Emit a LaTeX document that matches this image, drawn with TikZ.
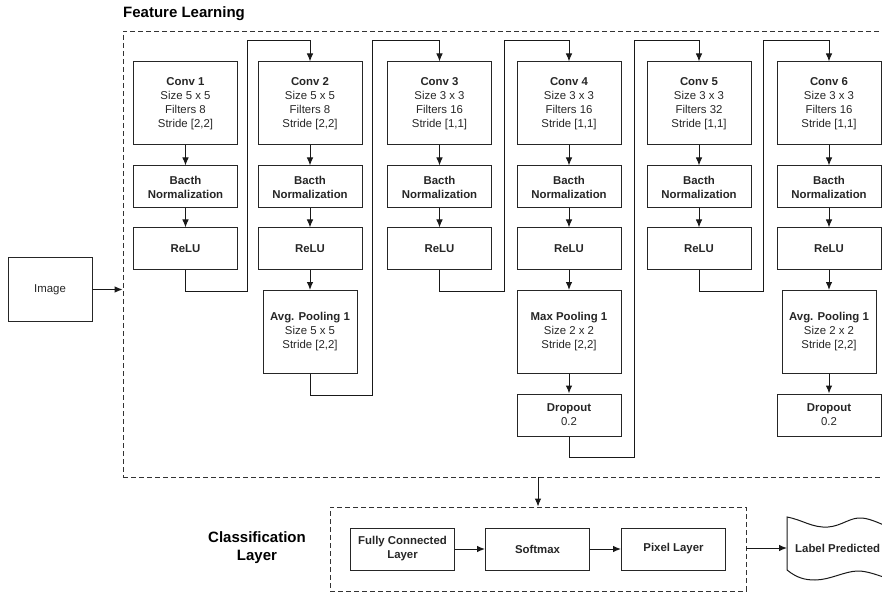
\documentclass[tikz,border=0pt]{standalone}
\usepackage{fontspec}
\setmainfont{Liberation Sans}
\usetikzlibrary{arrows.meta,calc}
\newcommand\boxfont{\fontsize{11.4}{14}\selectfont}
\newcommand\bigfont{\fontsize{15}{18}\selectfont\bfseries}
\tikzset{
  blk/.style={draw=black!85, line width=1pt, minimum width=104pt, inner sep=0pt,
              align=center, font=\boxfont, text=black!85},
  tall/.style={blk, minimum height=83pt},
  short/.style={blk, minimum height=42pt},
  pool/.style={blk, minimum height=83pt, minimum width=94pt},
  conn/.style={draw=black!90, line width=1pt},
  arr/.style={conn, -{Latex[length=8pt,width=6.5pt]}},
  dbox/.style={draw=black!80, line width=0.8pt, dash pattern=on 5pt off 3pt, inner sep=0pt},
}
\begin{document}
\begin{tikzpicture}[x=1pt,y=-1pt]
\useasboundingbox (0,0) rectangle (882,593);
\clip (0,0) rectangle (882,593);
% titles
\node[anchor=west, font=\bigfont, inner sep=0pt] (flt) at (123,14) {Feature Learning};
\node[align=center, font=\bigfont, inner sep=0pt] (clt) at (257,548) {Classification\\Layer};
% frames
\node[dbox, minimum width=767pt, minimum height=446pt] (fl) at (506.5,254) {};
\node[dbox, minimum width=416pt, minimum height=84pt] (cls) at (538,549) {};
% image
\node[blk, minimum width=84pt, minimum height=63pt] (img) at (50,289.5) {Image};
% column 1
\node[tall]  (c1) at (185.5,103.5) {\textbf{Conv 1}\\Size 5 x 5\\Filters 8\\Stride [2,2]};
\node[short] (b1) at (185.5,187) {\textbf{Bacth}\\\textbf{Normalization}};
\node[short] (r1) at (185.5,249) {\textbf{ReLU}};
% column 2
\node[tall]  (c2) at (310,103.5) {\textbf{Conv 2}\\Size 5 x 5\\Filters 8\\Stride [2,2]};
\node[short] (b2) at (310,187) {\textbf{Bacth}\\\textbf{Normalization}};
\node[short] (r2) at (310,249) {\textbf{ReLU}};
\node[pool]  (p2) at (310,332) {\textbf{Avg. Pooling 1}\\Size 5 x 5\\Stride [2,2]};
% column 3
\node[tall]  (c3) at (439.5,103.5) {\textbf{Conv 3}\\Size 3 x 3\\Filters 16\\Stride [1,1]};
\node[short] (b3) at (439.5,187) {\textbf{Bacth}\\\textbf{Normalization}};
\node[short] (r3) at (439.5,249) {\textbf{ReLU}};
% column 4
\node[tall]  (c4) at (569,103.5) {\textbf{Conv 4}\\Size 3 x 3\\Filters 16\\Stride [1,1]};
\node[short] (b4) at (569,187) {\textbf{Bacth}\\\textbf{Normalization}};
\node[short] (r4) at (569,249) {\textbf{ReLU}};
\node[tall]  (p4) at (569,332) {\textbf{Max Pooling 1}\\Size 2 x 2\\Stride [2,2]};
\node[short] (d4) at (569,415) {\textbf{Dropout}\\0.2};
% column 5
\node[tall]  (c5) at (699,103.5) {\textbf{Conv 5}\\Size 3 x 3\\Filters 32\\Stride [1,1]};
\node[short] (b5) at (699,187) {\textbf{Bacth}\\\textbf{Normalization}};
\node[short] (r5) at (699,249) {\textbf{ReLU}};
% column 6
\node[tall]  (c6) at (829,103.5) {\textbf{Conv 6}\\Size 3 x 3\\Filters 16\\Stride [1,1]};
\node[short] (b6) at (829,187) {\textbf{Bacth}\\\textbf{Normalization}};
\node[short] (r6) at (829,249) {\textbf{ReLU}};
\node[pool]  (p6) at (829,332) {\textbf{Avg. Pooling 1}\\Size 2 x 2\\Stride [2,2]};
\node[short] (d6) at (829,415) {\textbf{Dropout}\\0.2};
% classification layer
\node[short] (fc) at (402.5,549) {\textbf{Fully Connected}\\\textbf{Layer}};
\node[short] (sm) at (537.5,549) {\textbf{Softmax}};
\node[short] (px) at (673.5,549) {\textbf{Pixel Layer}};
\node[font=\boxfont\bfseries, text=black!85, anchor=west, inner sep=0pt] (lp) at (795,548) {Label Predicted};
\coordinate (lpw) at (787,548);
\draw[conn] (787,570) -- (787,517) .. controls (803,520) and (812,528) .. (828,527)
  .. controls (842,526) and (850,517) .. (862,518) .. controls (872,519) and (880,524) .. (892,528);
\draw[conn] (787,570) .. controls (797,578) and (805,580) .. (815,580)
  .. controls (830,580) and (845,571) .. (858,571) .. controls (868,571) and (880,576) .. (892,580);
% vertical arrows within columns
\foreach \a/\b in {c1/b1,b1/r1,c2/b2,b2/r2,r2/p2,c3/b3,b3/r3,c4/b4,b4/r4,r4/p4,p4/d4,c5/b5,b5/r5,c6/b6,b6/r6,r6/p6,p6/d6}
  \draw[arr] (\a) -- (\b);
% inter-column connectors
\coordinate (g1b) at (247,291); \coordinate (g1t) at (247,41);
\coordinate (g2b) at (372,395); \coordinate (g2t) at (372,41);
\coordinate (g3b) at (504,291); \coordinate (g3t) at (504,41);
\coordinate (g4b) at (634,457); \coordinate (g4t) at (634,41);
\coordinate (g5b) at (763,291); \coordinate (g5t) at (763,41);
\draw[arr] (r1.south) |- (g1b) -- (g1t) -| (c2.north);
\draw[arr] (p2.south) |- (g2b) -- (g2t) -| (c3.north);
\draw[arr] (r3.south) |- (g3b) -- (g3t) -| (c4.north);
\draw[arr] (d4.south) |- (g4b) -- (g4t) -| (c5.north);
\draw[arr] (r5.south) |- (g5b) -- (g5t) -| (c6.north);
% other arrows
\draw[arr] (img.east) -- (img.east -| fl.west);
\draw[arr] (cls.north |- fl.south) -- (cls.north);
\draw[arr] (fc) -- (sm);
\draw[arr] (sm) -- (px);
\draw[arr] (cls.east |- lpw) -- (lpw);
\end{tikzpicture}
\end{document}
